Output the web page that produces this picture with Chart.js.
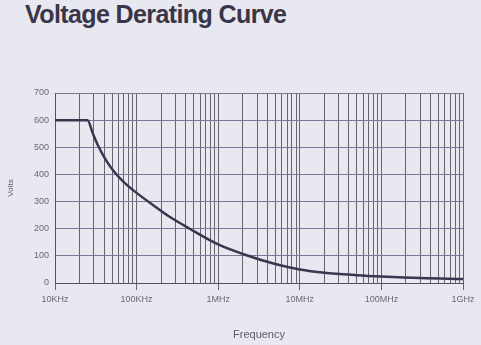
<!DOCTYPE html>
<html>
<head>
<meta charset="utf-8">
<script src="https://cdn.jsdelivr.net/npm/chart.js@4.4.1/dist/chart.umd.min.js"></script>
<style>
  html, body { margin: 0; padding: 0; background: #e8e8f0; }
  #wrap { position: relative; width: 481px; height: 345px; }
  #titulo {
    position: absolute; left: 25px; top: 0px;
    font: bold 25px "Liberation Sans", Arial, sans-serif;
    color: #3a3548; letter-spacing: -0.6px;
  }
  canvas { position: absolute; left: 0; top: 0; }
</style>
</head>
<body>
<div id="wrap">
  <div id="titulo">Voltage Derating Curve</div>
  <canvas id="curvaChart" width="481" height="345"></canvas>
</div>
<script>
// Curva de reducción de tensión (frecuencia en Hz, tensión en voltios)
const frecuencias = [1e4, 2.5e4, 2.92e4, 3.39e4, 4.27e4, 5.37e4, 7.08e4, 1e5, 1.68e5, 2.51e5, 4.47e5, 1e6, 2e6, 5e6, 1e7, 2e7, 5e7, 1e8, 3e8, 1e9];
const voltios     = [600, 600,   550,    505,    450,    408,    370,    332, 282,    245,    200,    142, 107, 70,  50,  38,  29,  24,  18,  15];

// Etiquetas de las décadas del eje X
const etiquetasDecadas = ['10KHz', '100KHz', '1MHz', '10MHz', '100MHz', '1GHz'];
// Marcas del eje Y
const marcasVoltios = [0, 100, 200, 300, 400, 500, 600, 700];

const esDecada = (v) => {
    const l = Math.log10(v);
    return Math.abs(l - Math.round(l)) < 1e-6;
};

const ctx = document.getElementById('curvaChart').getContext('2d');

new Chart(ctx, {
    type: 'line',
    data: {
        datasets: [{
            data: frecuencias.map((f, i) => ({ x: f, y: voltios[i] })),
            borderColor: '#3b3650',
            borderWidth: 2.5,
            pointRadius: 0,
            cubicInterpolationMode: 'monotone',
            fill: false
        }]
    },
    options: {
        responsive: false,
        animation: false,
        layout: { padding: { top: 93, right: 18, left: 0, bottom: 0 } },
        plugins: {
            legend: { display: false },
            tooltip: { enabled: false }
        },
        scales: {
            x: {
                type: 'logarithmic',
                min: 1e4,
                max: 1e9,
                afterBuildTicks: (scale) => {
                    // todas las líneas 1..9 de cada década
                    const ticks = [];
                    for (let e = 4; e <= 9; e++) {
                        for (let d = 1; d <= 9; d++) {
                            const v = d * Math.pow(10, e);
                            if (v <= 1e9 * 1.0001) ticks.push({ value: v });
                        }
                    }
                    scale.ticks = ticks;
                },
                afterFit: (scale) => { scale.height = 62; },
                border: { display: true, color: '#55525e', width: 1 },
                grid: {
                    color: '#67646e',
                    lineWidth: 1,
                    tickLength: 7,
                    tickColor: (c) => (c.tick && esDecada(c.tick.value)) ? '#67646e' : 'rgba(0,0,0,0)'
                },
                ticks: {
                    autoSkip: false,
                    maxRotation: 0,
                    padding: 4,
                    color: '#6a6872',
                    font: { family: 'Liberation Sans', size: 9 },
                    callback: (value) => {
                        if (!esDecada(value)) return '';
                        return etiquetasDecadas[Math.round(Math.log10(value)) - 4];
                    }
                },
                title: {
                    display: true,
                    text: 'Frequency',
                    color: '#5e5c68',
                    font: { family: 'Liberation Sans', size: 11 },
                    padding: { top: 4, bottom: 3 }
                }
            },
            y: {
                min: 0,
                max: 700,
                afterBuildTicks: (scale) => {
                    scale.ticks = marcasVoltios.map(v => ({ value: v }));
                },
                afterFit: (scale) => { scale.width = 55; },
                border: { display: true, color: '#55525e', width: 1 },
                grid: {
                    color: '#7b7896',
                    lineWidth: 1,
                    drawTicks: false
                },
                ticks: {
                    padding: 6,
                    color: '#6a6872',
                    font: { family: 'Liberation Sans', size: 9 }
                },
                title: {
                    display: true,
                    text: 'Volts',
                    color: '#5e5c68',
                    font: { family: 'Liberation Sans', size: 8 },
                    padding: { top: 6, bottom: 0 }
                }
            }
        }
    }
});
</script>
</body>
</html>
